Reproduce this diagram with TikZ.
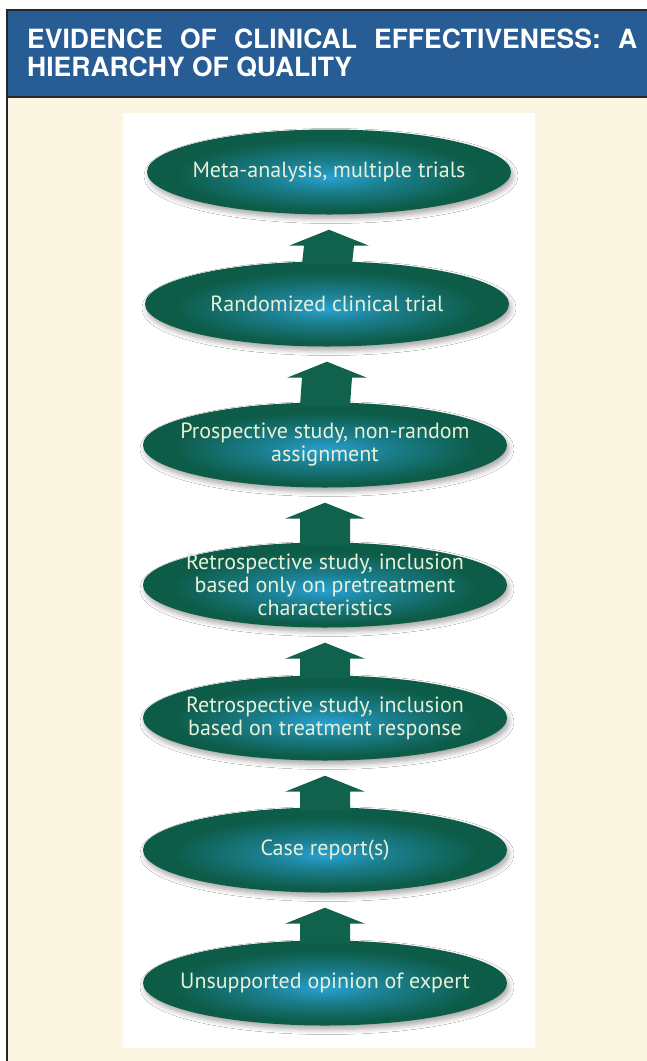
\documentclass[tikz,border=0pt]{standalone}
\usepackage{fontspec}
\setmainfont{PT Sans}
\newfontfamily\headfont{TeX Gyre Heros}
\usetikzlibrary{positioning, calc, shapes.geometric, shadows.blur}

\definecolor{pagecream}{RGB}{251,246,226}
\definecolor{hdrblue}{RGB}{40,92,148}
\definecolor{levelgreen}{RGB}{13,92,72}
\definecolor{arrowgreen}{RGB}{16,98,76}
\definecolor{levelglow}{RGB}{40,160,210}
\definecolor{leveltext}{RGB}{234,240,214}
\colorlet{levelmid}{levelglow!50!levelgreen}

\pgfdeclareradialshading{levelshade}{\pgfpoint{0bp}{-3bp}}{%
  color(0bp)=(levelglow); color(9bp)=(levelmid); color(21bp)=(levelgreen); color(50bp)=(levelgreen)}

\tikzset{
  level/.style={ellipse, minimum width=364pt, minimum height=85pt,
    inner xsep=-30pt, inner ysep=-10pt, align=center, text=leveltext,
    font=\fontsize{22}{23}\selectfont, shading=levelshade,
    blur shadow={shadow xshift=2pt, shadow yshift=-4pt, shadow blur steps=6,
      shadow blur radius=5pt, shadow opacity=35}},
  uparrow/.style={fill=arrowgreen, draw=none},
  headtext/.style={text=white, font=\headfont\bfseries\fontsize{26.5}{30}\selectfont,
    inner sep=0pt}
}

% block arrow from lower level #1 up to upper level #2
\newcommand{\levelarrow}[2]{%
  \fill[uparrow] ($(#1.north)+(-25pt,-3pt)$) -- ($(#2.south)+(-25pt,-31pt)$)
    -- ($(#2.south)+(-40pt,-31pt)$) -- ($(#2.south)+(0pt,-15pt)$)
    -- ($(#2.south)+(40pt,-31pt)$) -- ($(#2.south)+(25pt,-31pt)$)
    -- ($(#1.north)+(25pt,-3pt)$) -- cycle;}

\begin{document}
\begin{tikzpicture}[x=1pt, y=-1pt]
    \useasboundingbox (0,0) rectangle (647,1061);
    % Page and header band
    \fill[white] (0,0) rectangle (647,1061);
    \fill[pagecream] (7,10) rectangle (647,1061);
    \fill[hdrblue] (7,10) rectangle (647,97);
    \draw[black!85, line width=1.6pt] (7,1061) -- (7,10) -- (647,10);
    \draw[black!85, line width=1.4pt] (7,97) -- (647,97);
    \node[headtext, anchor=base west] (title1) at (27,48)
        {\makebox[610pt][s]{EVIDENCE OF CLINICAL EFFECTIVENESS: A}};
    \node[headtext, anchor=base west] (title2) at (27,76) {HIERARCHY OF QUALITY};

    % White panel
    \fill[white] (123,113) rectangle (535,1048);

    % Levels of evidence
    \node[level] (meta) at (329,172) {Meta-analysis, multiple trials};
    \node[level] (rct) at (327,304) {Randomized clinical trial};
    \node[level] (prosp) at (325,445) {Prospective study, non-random\\assignment};
    \node[level] (retropre) at (325,585) {Retrospective study, inclusion\\based only on pretreatment\\characteristics};
    \node[level] (retroresp) at (325,718) {Retrospective study, inclusion\\based on treatment response};
    \node[level] (caserep) at (325,850) {Case report(s)};
    \node[level] (opinion) at (325,983) {Unsupported opinion of expert};

    % Arrows
    \levelarrow{rct}{meta}
    \levelarrow{prosp}{rct}
    \levelarrow{retropre}{prosp}
    \levelarrow{retroresp}{retropre}
    \levelarrow{caserep}{retroresp}
    \levelarrow{opinion}{caserep}
\end{tikzpicture}
\end{document}
